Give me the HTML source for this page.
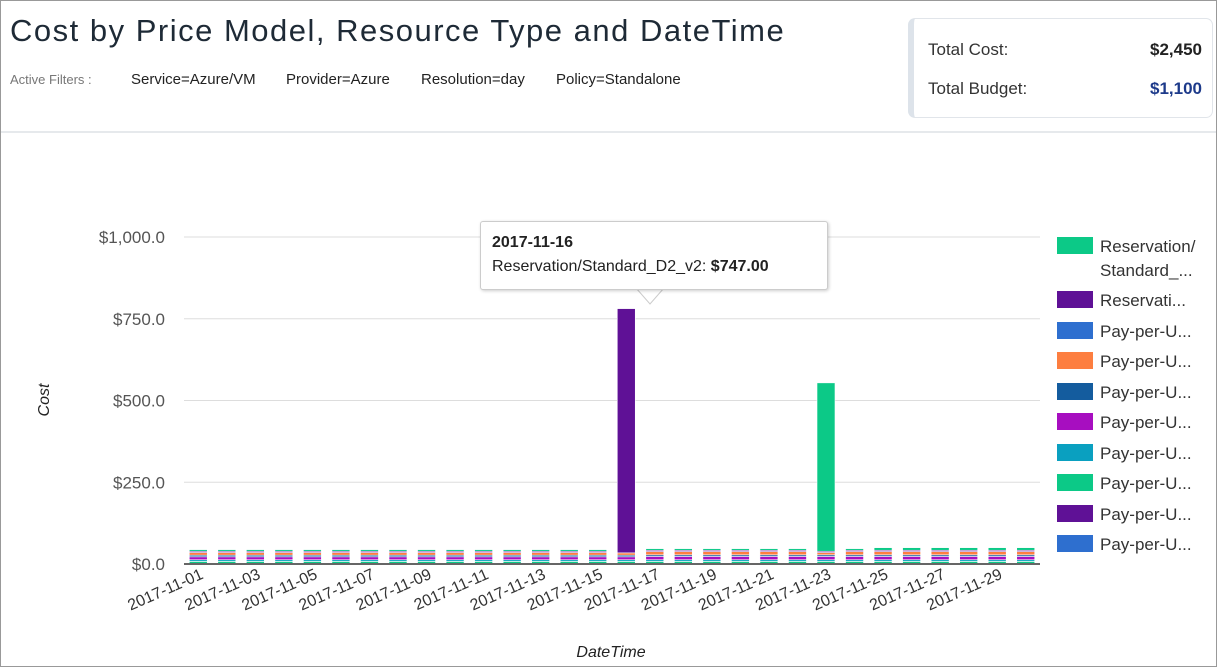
<!DOCTYPE html>
<html><head><meta charset="utf-8">
<style>
html,body{margin:0;padding:0;background:#fff;}
body{width:1217px;height:667px;position:relative;overflow:hidden;font-family:"Liberation Sans",sans-serif;}
#frame{position:absolute;left:0;top:0;width:1215px;height:665px;border:1px solid #999;}
#title{position:absolute;left:10px;top:13px;font-size:31px;color:#1e2a36;letter-spacing:1.5px;}
#filters{position:absolute;left:0;top:71px;font-size:15px;color:#222;width:800px;height:20px;}
#filters span{position:absolute;top:0;white-space:nowrap;}
#filters .lbl{color:#777;font-size:13px;top:1px;}
#hdr-line{position:absolute;left:1px;top:131px;width:1215px;height:2px;background:#e6e9ec;}
#summary{position:absolute;left:908px;top:18px;width:298px;height:98px;border:1px solid #e1e5ea;border-left:6px solid #dde3ea;border-radius:7px;background:#fff;}
.srow{position:absolute;left:14px;right:10px;font-size:17px;color:#333;}
.srow b{position:absolute;right:0;top:0;}
#tooltip{position:absolute;left:480px;top:221px;width:346px;height:67px;background:#fff;border:1px solid #ccc;border-radius:3px;box-shadow:1px 1px 3px rgba(0,0,0,.2);font-size:16px;color:#222;}
</style></head>
<body>
<div id="frame"></div>
<div id="title">Cost by Price Model, Resource Type and DateTime</div>
<div id="filters"><span class="lbl" style="left:10px">Active Filters :</span><span style="left:131px">Service=Azure/VM</span><span style="left:286px">Provider=Azure</span><span style="left:421px">Resolution=day</span><span style="left:556px">Policy=Standalone</span></div>
<div id="hdr-line"></div>
<div id="summary">
 <div class="srow" style="top:21px">Total Cost:<b style="color:#222">$2,450</b></div>
 <div class="srow" style="top:60px">Total Budget:<b style="color:#1d3a8a">$1,100</b></div>
</div>
<svg id="chart" width="1217" height="667" style="position:absolute;left:0;top:0"></svg>
<div id="tooltip">
 <div style="position:absolute;left:11px;top:12px;font-weight:bold">2017-11-16</div>
 <div style="position:absolute;left:11px;top:36px">Reservation/Standard_D2_v2: <b>$747.00</b></div>
</div>
<script>
const days = Array.from({length:30},(_,i)=>'2017-11-'+String(i+1).padStart(2,'0'));
const seriesNames = ['Reservation/Standard_...','Reservati...','Pay-per-U...','Pay-per-U...','Pay-per-U...','Pay-per-U...','Pay-per-U...','Pay-per-U...','Pay-per-U...','Pay-per-U...'];
const legendFirst = ['Reservation/','Standard_...'];
const colors = ['#0cc987','#5f1196','#2e6fcf','#fd7e40','#145c9e','#a70ec0','#0aa0c0','#0cc987','#5f1196','#2e6fcf'];
const s1 = [5,5,5,5,5,5,5,5,5,5,5,5,5,5,5,0,5,5,5,5,5,5,515,5,8,8,8,8,8,8];
const s2 = [4,4,4,4,4,4,4,4,4,4,4,4,4,4,4,747,4,4,4,4,4,4,4,4,4,4,4,4,4,4];
const s3 = [0,0,0,0,0,0,0,0,0,0,0,0,0,0,0,0,0,0,0,0,0,0,0,0,0,0,0,0,0,0];
const s4 = [8,8,8,8,8,8,8,8,8,8,8,8,8,8,8,7,10,10,10,10,10,10,7,10,10,10,10,10,10,10];
const s5 = [5,5,5,5,5,5,5,5,5,5,5,5,5,5,5,5,5,5,5,5,5,5,5,5,5,5,5,5,5,5];
const s6 = [9,9,9,9,9,9,9,9,9,9,9,9,9,9,9,9,10,10,10,10,10,10,10,10,10,10,10,10,10,10];
const s7 = [5,5,5,5,5,5,5,5,5,5,5,5,5,5,5,5,5,5,5,5,5,5,5,5,5,5,5,5,5,5];
const s8 = [8,8,8,8,8,8,8,8,8,8,8,8,8,8,8,8,8,8,8,8,8,8,8,8,8,8,8,8,8,8];
const s9 = [0,0,0,0,0,0,0,0,0,0,0,0,0,0,0,0,0,0,0,0,0,0,0,0,0,0,0,0,0,0];
const s10 = [0,0,0,0,0,0,0,0,0,0,0,0,0,0,0,0,0,0,0,0,0,0,0,0,0,0,0,0,0,0];
const yTicks = [0,250,500,750,1000];
const yTickLabels = ['$0.0','$250.0','$500.0','$750.0','$1,000.0'];

const series=[s1,s2,s3,s4,s5,s6,s7,s8,s9,s10];
const NS='http://www.w3.org/2000/svg';
const svg=document.getElementById('chart');
const L=184,R=1040,T=237,B=564,yMax=1000;
const slot=(R-L)/days.length, bw=18;
const y=v=>B-(v/yMax)*(B-T);
const x=i=>L+slot*(i+0.5);
function mk(t,a){const e=document.createElementNS(NS,t);for(const k in a)e.setAttribute(k,a[k]);svg.appendChild(e);return e;}
yTicks.forEach((v,i)=>{
 if(v>0){const g=mk('line',{x1:L,x2:R,y1:y(v),y2:y(v),stroke:'#ddd','stroke-width':1});
 
 }
 const t=mk('text',{x:165,y:y(v)+6,'text-anchor':'end','font-size':17,fill:'#555','font-family':'Liberation Sans'});
 t.textContent=yTickLabels[i];
 
 
});
days.forEach((d,i)=>{
 let acc=0;
 for(let s=series.length-1;s>=0;s--){
  const v=series[s][i]; if(!v)continue;
  const r=mk('rect',{x:x(i)-bw/2,y:y(acc+v),width:bw,height:y(acc)-y(acc+v),fill:colors[s],stroke:'#fff','stroke-width':0.6});
  
  
  acc+=v;
 }
 if(i%2===0){
  const t=mk('text',{transform:`translate(${x(i)+6},${B+14}) rotate(-24)`,'text-anchor':'end','font-size':16,fill:'#333','font-family':'Liberation Sans'});
  t.textContent=d;
  
  
 }
});
const ax=mk('line',{x1:L,x2:R,y1:B,y2:B,stroke:'#666','stroke-width':2});


const yt=mk('text',{transform:'translate(49,400) rotate(-90)','text-anchor':'middle','font-size':16,'font-style':'italic',fill:'#222','font-family':'Liberation Sans'});
yt.textContent='Cost';


const xt=mk('text',{x:611,y:657,'text-anchor':'middle','font-size':16,'font-style':'italic',fill:'#222','font-family':'Liberation Sans'});
xt.textContent='DateTime';


const tp=mk('path',{d:'M636,288 L650,304 L664,288',fill:'#fff',stroke:'#ccc'});


const legY=[237,291,322,352,383,413,444,474,505,535];
seriesNames.forEach((n,i)=>{
 const r=mk('rect',{x:1057,y:legY[i],width:36,height:17,fill:colors[i]});
 
 
 const t=mk('text',{x:1100,y:legY[i]+15,'font-size':17,fill:'#333','font-family':'Liberation Sans'});
 t.textContent=i===0?legendFirst[0]:n;
 
 
 if(i===0){const t2=mk('text',{x:1100,y:legY[i]+39,'font-size':17,fill:'#333','font-family':'Liberation Sans'});
  t2.textContent=legendFirst[1];
  
  }
});
</script>
</body></html>
